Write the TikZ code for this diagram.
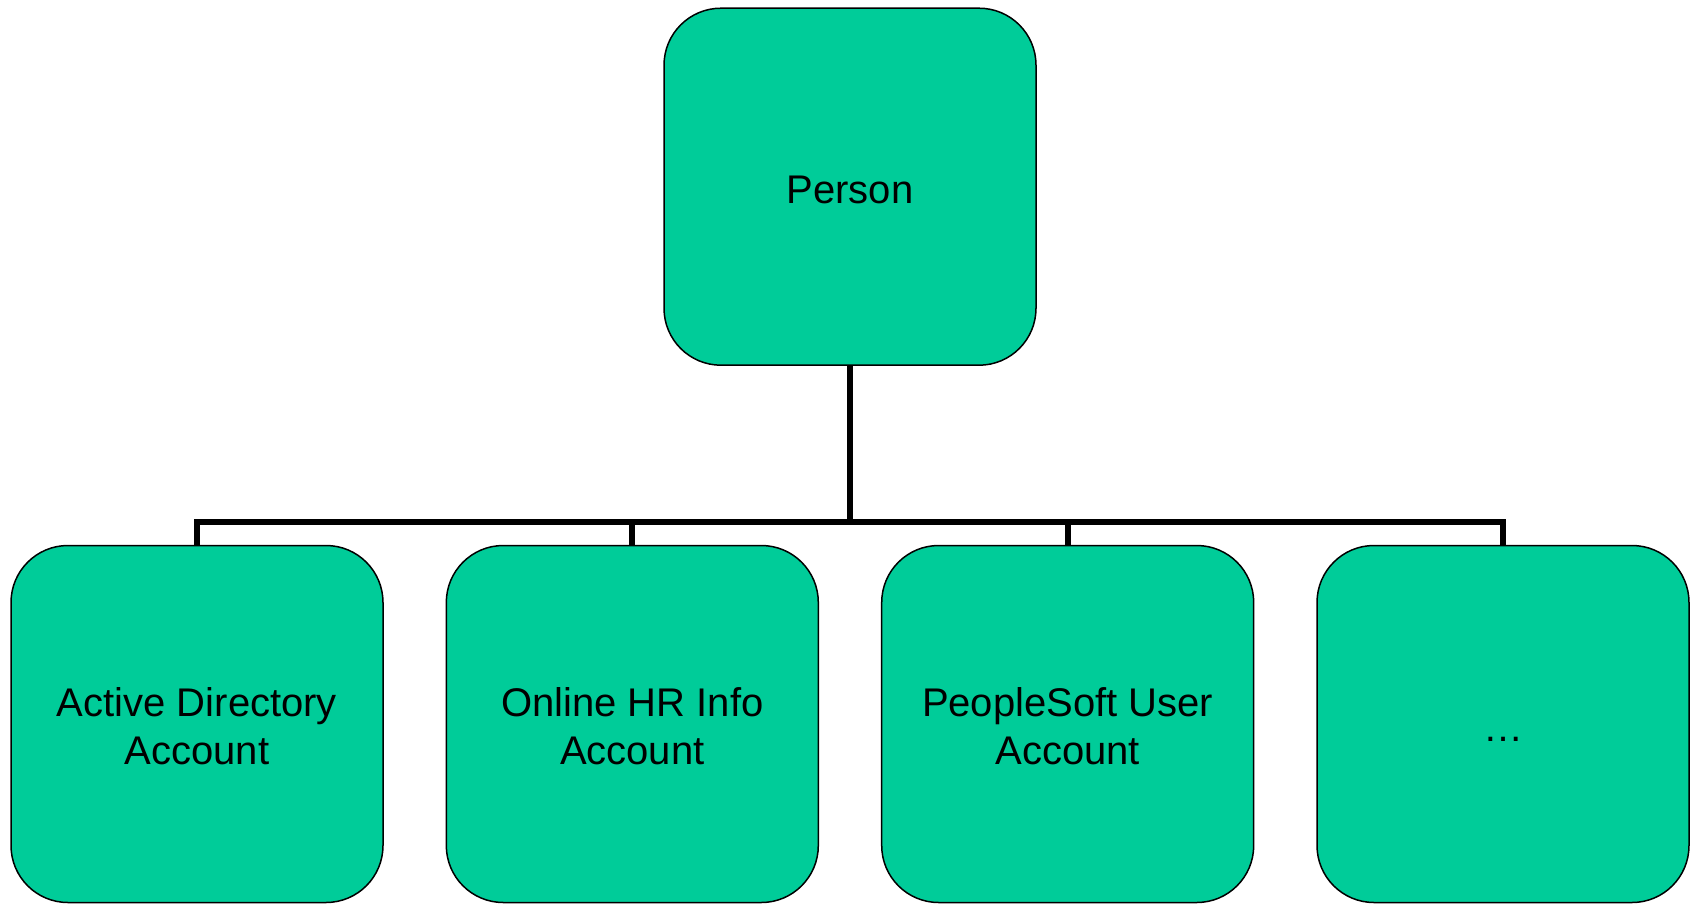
\documentclass[tikz,border=0pt]{standalone}
\usepackage{fontspec}
\setmainfont{Liberation Sans}
\definecolor{boxgreen}{RGB}{0,204,153}
\newcommand{\toplift}{\rule{0pt}{33.5pt}}
\begin{document}
\begin{tikzpicture}[x=1pt,y=-1pt,
  orgbox/.style={draw=black, line width=1.5pt, fill=boxgreen, rounded corners=57pt,
    minimum width=372pt, minimum height=357pt, inner sep=0pt, align=center,
    font=\fontsize{40}{48.6}\selectfont},
  conn/.style={draw=black, line width=6pt, line join=miter}]
\useasboundingbox (0,0) rectangle (1694,903);
\node[orgbox, text height=33.5pt, text depth=0pt] (person) at (850,186.7) {Person};
\node[orgbox] (ad) at (197,724) {\toplift Active Directory\\Account};
\node[orgbox] (hr) at (632.3,724) {\toplift Online HR Info\\Account};
\node[orgbox] (ps) at (1067.7,724) {\toplift PeopleSoft User\\Account};
\node[orgbox, text height=34pt, text depth=0pt] (more) at (1503,724) {…};
\coordinate (bar) at (850,521.7);
\draw[conn] (person.south) -- (bar);
\draw[conn] (ad.north) |- (bar);
\draw[conn] (hr.north) |- (bar);
\draw[conn] (ps.north) |- (bar);
\draw[conn] (more.north) |- (bar);
\end{tikzpicture}
\end{document}
